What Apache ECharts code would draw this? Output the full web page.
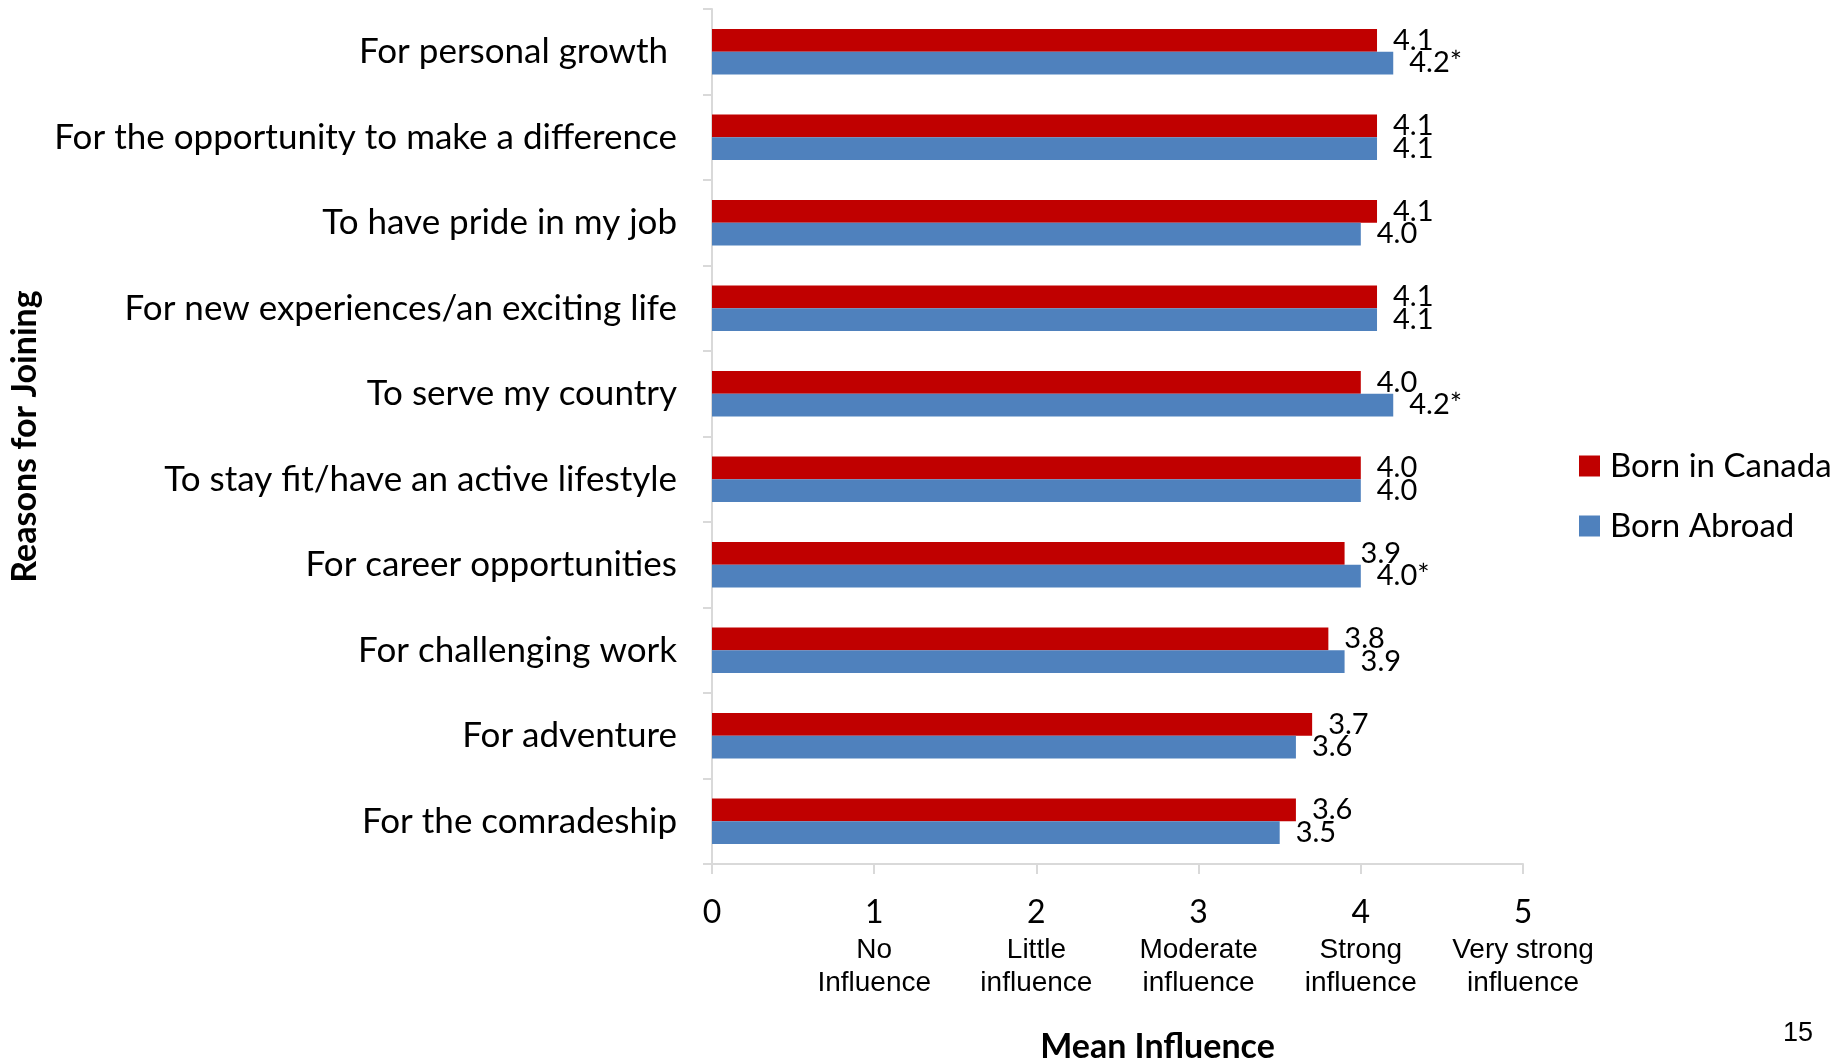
<!DOCTYPE html>
<html>
<head>
<meta charset="utf-8">
<script src="https://cdn.jsdelivr.net/npm/echarts@6/dist/echarts.min.js"></script>
<style>
  html, body { margin: 0; padding: 0; background: #fff; }
  #main { width: 1846px; height: 1061px; }
</style>
</head>
<body>
<div id="main"></div>
<script>
// reasons, top to bottom
var reasons = [
  "For personal growth ",
  "For the opportunity to make a difference",
  "To have pride in my job",
  "For new experiences/an exciting life",
  "To serve my country",
  "To stay fit/have an active lifestyle",
  "For career opportunities",
  "For challenging work",
  "For adventure",
  "For the comradeship"
];
var bornCanada = [4.1, 4.1, 4.1, 4.1, 4.0, 4.0, 3.9, 3.8, 3.7, 3.6];
var bornAbroad = [4.2, 4.1, 4.0, 4.1, 4.2, 4.0, 4.0, 3.9, 3.6, 3.5];
// * = significant difference
var abroadFlags = ["*", "", "", "", "*", "", "*", "", "", ""];
var tickNames = ["", "No\nInfluence", "Little\ninfluence", "Moderate\ninfluence", "Strong\ninfluence", "Very strong\ninfluence"];

var calibri = "Lato, 'Open Sans', sans-serif";
var arial = "'Liberation Sans', Arial, sans-serif";

var myChart = echarts.init(document.getElementById("main"));
var option = {
  animation: false,
  grid: { left: 712, right: 323, top: 9, bottom: 197, outerBoundsMode: "none" },
  legend: {
    orient: "vertical",
    left: 1574,
    top: 443,
    itemWidth: 21,
    itemHeight: 21,
    itemGap: 24,
    icon: "rect",
    data: ["Born in Canada", "Born Abroad"],
    textStyle: { fontFamily: calibri, fontSize: 33, lineHeight: 36, color: "#000", padding: [0, 0, 0, 5] }
  },
  xAxis: {
    type: "value",
    min: 0,
    max: 5,
    interval: 1,
    splitLine: { show: false },
    axisLine: { show: true, lineStyle: { color: "#d9d9d9", width: 2 } },
    axisTick: { show: true, length: 10, lineStyle: { color: "#d9d9d9", width: 2 } },
    axisLabel: {
      margin: 27,
      formatter: function (v) {
        var s = tickNames[v] || "";
        var out = "{n|" + v + "}";
        if (s) {
          s.split("\n").forEach(function (line) { out += "\n{s|" + line + "}"; });
        }
        return out;
      },
      rich: {
        n: { fontFamily: calibri, fontSize: 32, lineHeight: 43, color: "#000" },
        s: { fontFamily: arial, fontSize: 28, lineHeight: 33, color: "#000" }
      }
    },
    name: "Mean Influence",
    nameLocation: "middle",
    nameGap: 166,
    nameTextStyle: { fontFamily: calibri, fontSize: 34, fontWeight: "bold", color: "#000", padding: [0, 0, 0, 80] }
  },
  yAxis: {
    type: "category",
    inverse: true,
    data: reasons,
    axisLine: { show: true, lineStyle: { color: "#d9d9d9", width: 2 } },
    axisTick: { show: true, length: 9, lineStyle: { color: "#d9d9d9", width: 2 } },
    axisLabel: { margin: 35, fontFamily: calibri, fontSize: 35, color: "#000" },
    name: "Reasons for Joining",
    nameLocation: "middle",
    nameGap: 670,
    nameTextStyle: { fontFamily: calibri, fontSize: 34, fontWeight: "bold", color: "#000" }
  },
  series: [
    {
      name: "Born in Canada",
      type: "bar",
      data: bornCanada,
      barGap: "0%",
      barCategoryGap: "47%",
      itemStyle: { color: "#c00000" },
      label: {
        show: true,
        position: "right",
        distance: 16,
        fontFamily: calibri,
        fontSize: 29,
        color: "#000",
        formatter: function (p) { return p.value.toFixed(1); }
      }
    },
    {
      name: "Born Abroad",
      type: "bar",
      data: bornAbroad,
      barGap: "0%",
      barCategoryGap: "47%",
      itemStyle: { color: "#4f81bd" },
      label: {
        show: true,
        position: "right",
        distance: 16,
        fontFamily: calibri,
        fontSize: 29,
        color: "#000",
        formatter: function (p) { return p.value.toFixed(1) + abroadFlags[p.dataIndex]; }
      }
    }
  ],
  graphic: [
    {
      type: "text",
      left: 1783,
      top: 1020,
      style: { text: "15", fontFamily: arial, fontSize: 27, fill: "#000" }
    }
  ]
};
myChart.setOption(option);
</script>
</body>
</html>
